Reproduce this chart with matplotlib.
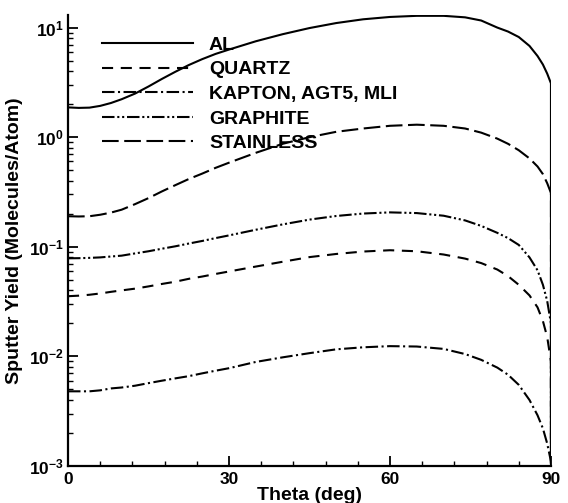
# Sputter yield vs incidence angle, log scale
import matplotlib
matplotlib.use('Agg')
import matplotlib.pyplot as plt
from matplotlib.ticker import FixedLocator, FixedFormatter, LogLocator, NullFormatter, MultipleLocator

plt.rcParams['font.family'] = ['Liberation Sans', 'DejaVu Sans']
plt.rcParams['font.weight'] = 'bold'
plt.rcParams['mathtext.fontset'] = 'custom'
plt.rcParams['mathtext.rm'] = 'Liberation Sans:bold'
plt.rcParams['mathtext.bf'] = 'Liberation Sans:bold'
plt.rcParams['lines.scale_dashes'] = False

# theta grid (deg), last point repeated so every curve drops to the axis at 90
theta = [0, 2, 4, 6, 8, 10, 12.5, 15, 17.5, 20, 22.5, 25, 27.5, 30, 35, 40,
         45, 50, 55, 60, 65, 70, 74, 77, 80, 82, 84, 86, 87.5, 88.5, 89.3,
         90, 90]

al = [1.87, 1.85, 1.86, 1.93, 2.05, 2.22, 2.5, 2.9, 3.4, 3.95, 4.55, 5.15,
      5.75, 6.3, 7.5, 8.7, 9.9, 11.0, 11.9, 12.5, 12.8, 12.8, 12.4, 11.6,
      10.0, 9.2, 8.2, 6.8, 5.5, 4.6, 3.8, 3.1, 1e-4]
quartz = [0.0354, 0.0358, 0.0365, 0.0375, 0.0388, 0.040, 0.0415, 0.0435,
          0.0458, 0.048, 0.051, 0.0535, 0.0565, 0.0595, 0.066, 0.073, 0.0805,
          0.086, 0.0905, 0.093, 0.091, 0.085, 0.078, 0.071, 0.062, 0.054,
          0.045, 0.036, 0.028, 0.021, 0.015, 0.009, 1e-4]
kapton = [0.0048, 0.0048, 0.0048, 0.0049, 0.0051, 0.0052, 0.0054, 0.0057,
          0.0060, 0.0063, 0.0066, 0.0070, 0.0074, 0.0078, 0.0089, 0.0098,
          0.0107, 0.0116, 0.0121, 0.0124, 0.0123, 0.0117, 0.0105, 0.0093,
          0.0079, 0.0068, 0.0055, 0.0040, 0.0029, 0.0022, 0.0016, 0.0011, 1e-4]
graphite = [0.0785, 0.0787, 0.0792, 0.080, 0.0815, 0.083, 0.087, 0.091,
            0.096, 0.101, 0.107, 0.113, 0.120, 0.127, 0.143, 0.160, 0.177,
            0.191, 0.201, 0.206, 0.203, 0.192, 0.174, 0.155, 0.134, 0.120,
            0.104, 0.080, 0.061, 0.045, 0.032, 0.020, 1e-4]
stainless = [0.19, 0.189, 0.19, 0.196, 0.205, 0.218, 0.245, 0.278, 0.32,
             0.365, 0.415, 0.465, 0.525, 0.585, 0.72, 0.87, 1.0, 1.12, 1.2,
             1.27, 1.3, 1.27, 1.2, 1.1, 0.97, 0.87, 0.76, 0.64, 0.54, 0.46,
             0.38, 0.31, 1e-4]

labels = ['AL', 'QUARTZ', 'KAPTON, AGT5, MLI', 'GRAPHITE', 'STAINLESS']
y_ticks = [1e-3, 1e-2, 1e-1, 1e0, 1e1]
y_tick_labels = [r'$\mathbf{10^{-3}}$', r'$\mathbf{10^{-2}}$', r'$\mathbf{10^{-1}}$',
                 r'$\mathbf{10^{0}}$', r'$\mathbf{10^{1}}$']


def main():
    fig = plt.figure(figsize=(5.68, 5.03), dpi=100)
    ax = fig.add_axes([0.1197, 0.0736, 0.8503, 0.8964])

    styles = ['-', (0, (8, 5.5)), (0, (9, 2.5, 1.5, 2.5)),
              (0, (9, 2, 1.5, 2, 1.5, 2)), (0, (12, 4))]
    series = [al, quartz, kapton, graphite, stainless]
    for vals, ls, lab in zip(series, styles, labels):
        ax.plot(theta, vals, color='black', lw=1.5, linestyle=ls, label=lab)

    ax.set_yscale('log')
    ax.set_xlim(0, 90)
    ax.set_ylim(1e-3, 13)

    ax.xaxis.set_major_locator(FixedLocator([0, 30, 60, 90]))
    ax.xaxis.set_minor_locator(MultipleLocator(6))
    ax.yaxis.set_major_locator(FixedLocator(y_ticks))
    ax.yaxis.set_major_formatter(FixedFormatter(y_tick_labels))
    ax.yaxis.set_minor_locator(LogLocator(base=10, subs=range(2, 10)))
    ax.yaxis.set_minor_formatter(NullFormatter())

    ax.tick_params(which='major', direction='in', length=7, width=1.3,
                   labelsize=12.5, pad=4)
    ax.tick_params(which='minor', direction='in', length=3.5, width=1.0)
    ax.tick_params(axis='y', which='major', pad=3)

    for side in ['top', 'right']:
        ax.spines[side].set_visible(False)
    for side in ['left', 'bottom']:
        ax.spines[side].set_linewidth(1.6)

    ax.set_xlabel('Theta (deg)', fontsize=14, fontweight='bold', labelpad=0)
    ax.set_ylabel('Sputter Yield (Molecules/Atom)', fontsize=14,
                  fontweight='bold', labelpad=4)

    leg = ax.legend(loc='upper left', bbox_to_anchor=(0.1796, 0.928),
                    bbox_transform=fig.transFigure, frameon=False,
                    fontsize=14, handlelength=4.7, handletextpad=0.8,
                    labelspacing=0.36, borderpad=0, borderaxespad=0)
    for t in leg.get_texts():
        t.set_fontweight('bold')

    fig.savefig('out.png', dpi=100)


if __name__ == '__main__':
    main()
